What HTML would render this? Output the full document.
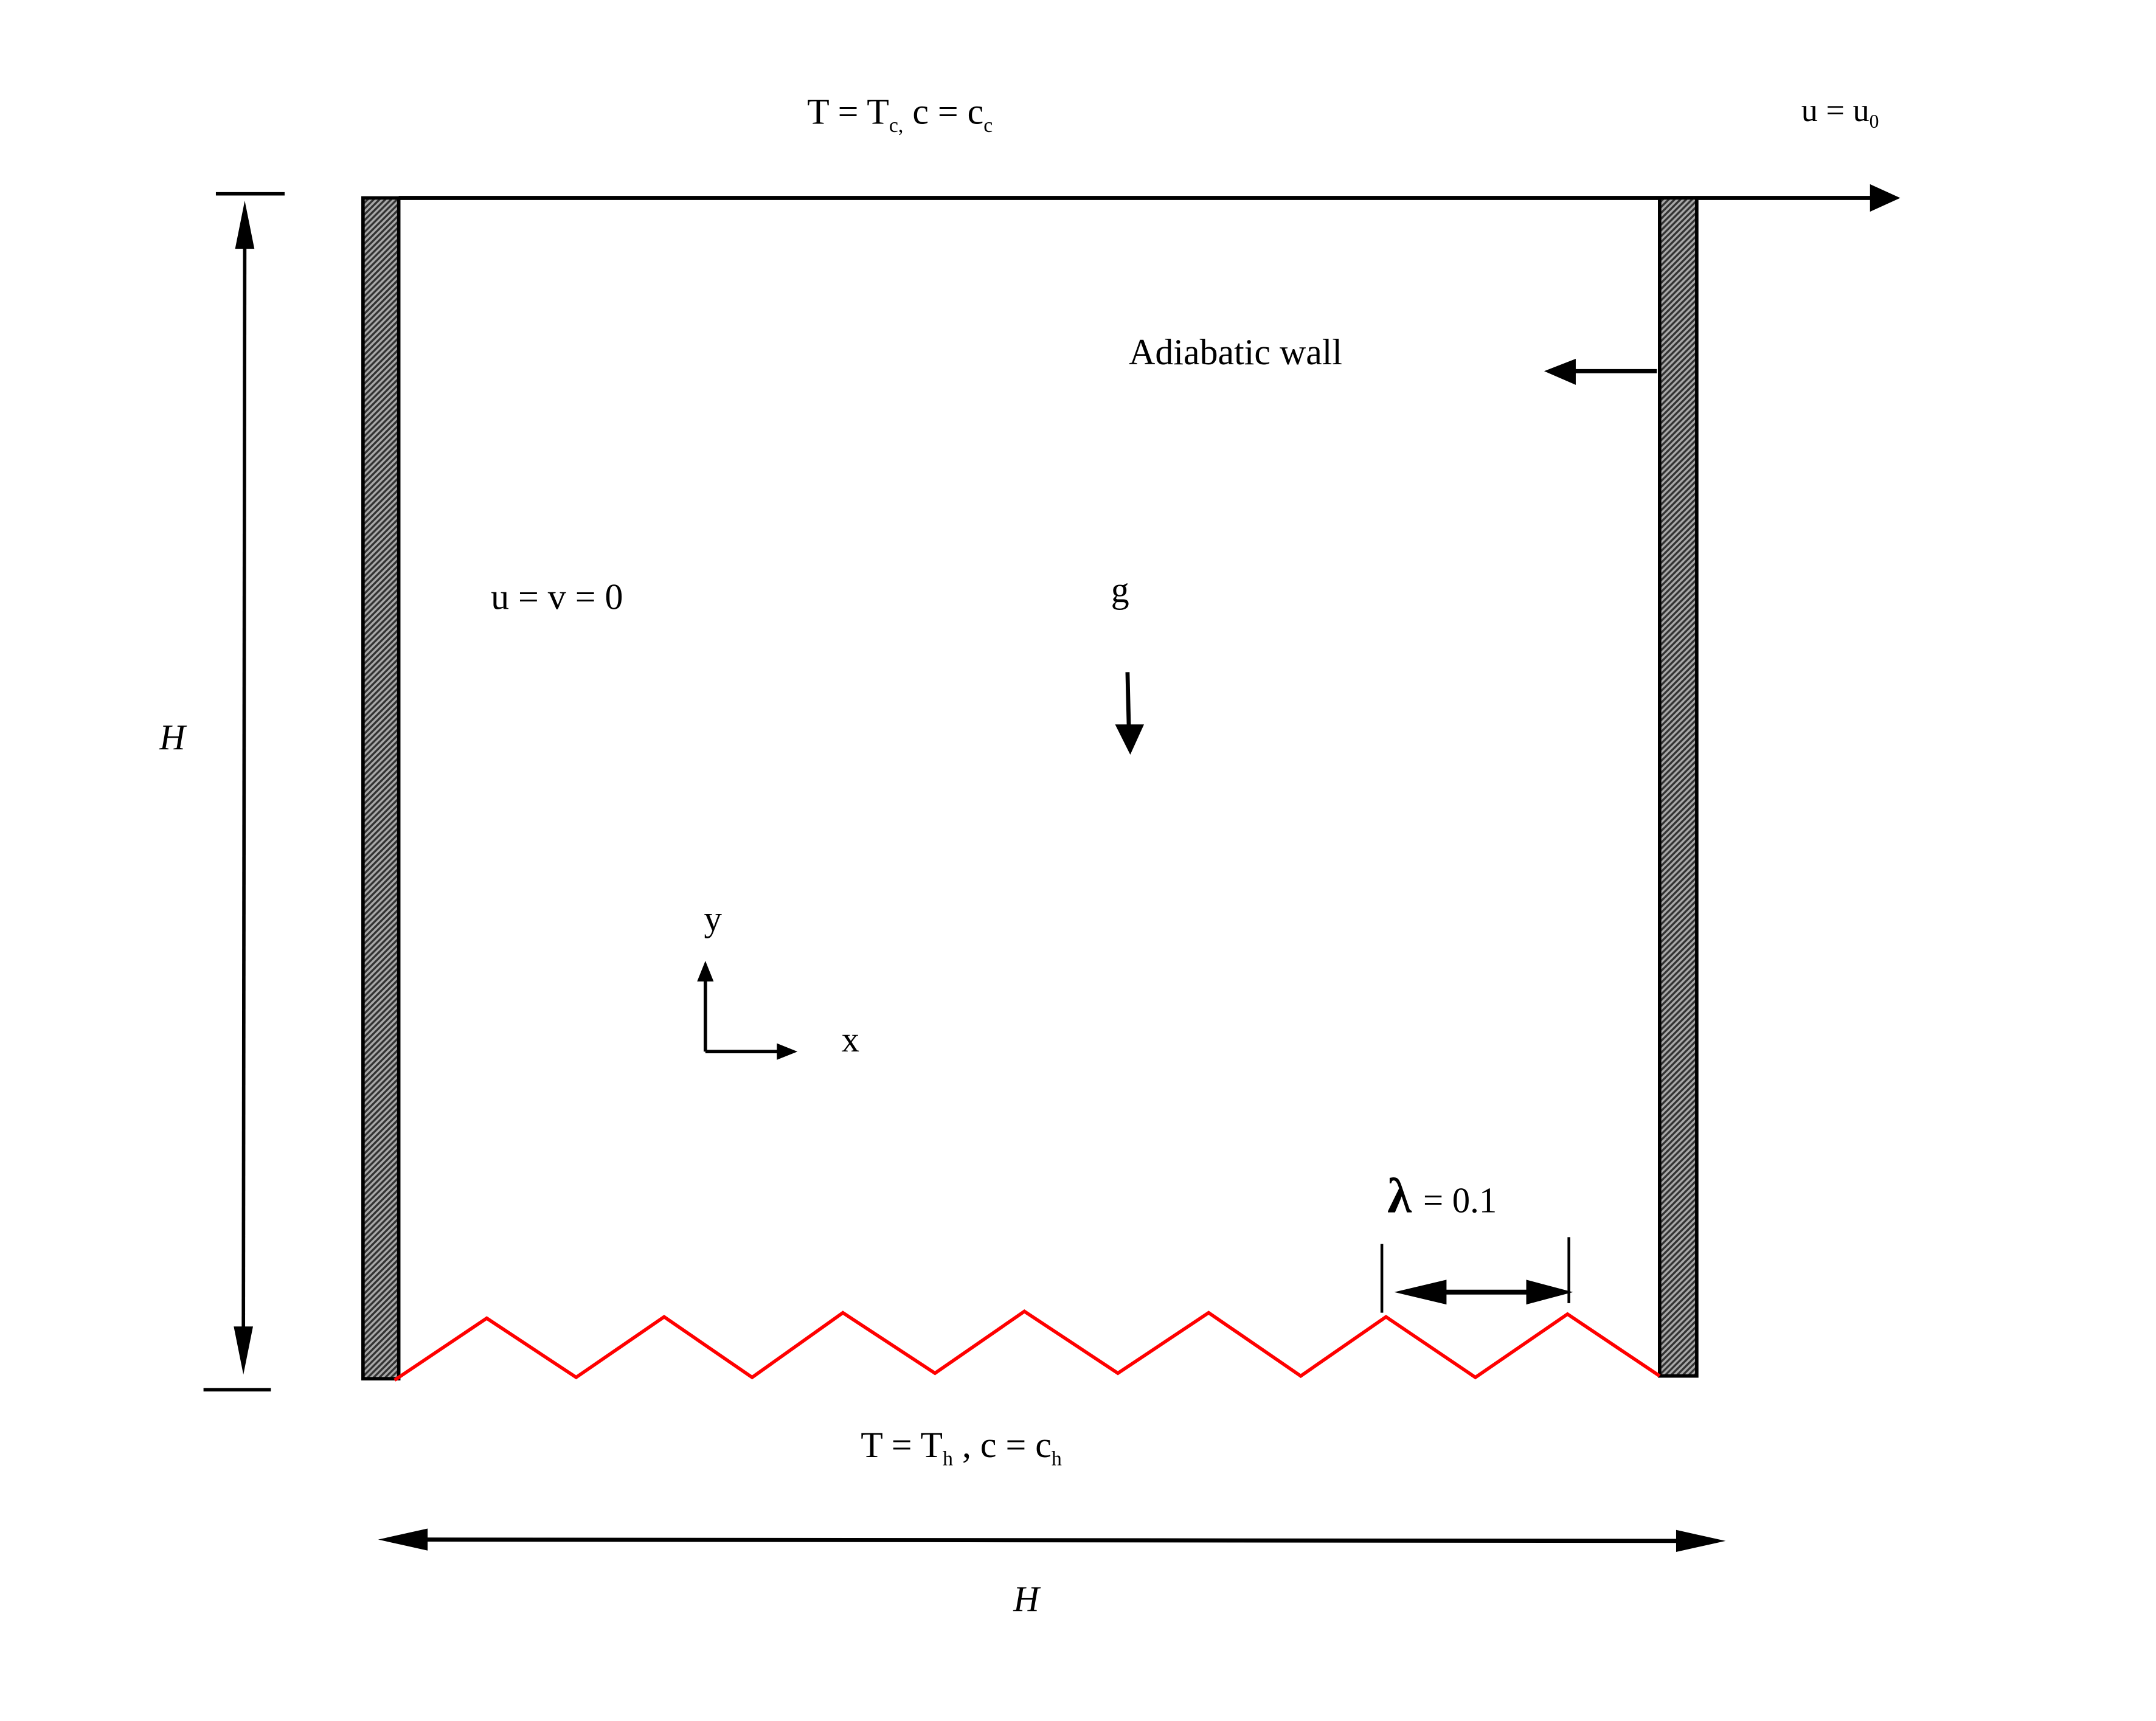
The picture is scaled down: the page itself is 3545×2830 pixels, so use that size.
<!DOCTYPE html>
<html><head><style>html,body{margin:0;padding:0;background:#fff}svg{display:block}</style></head>
<body>
<svg width="3545" height="2830" viewBox="0 0 1568 1252" preserveAspectRatio="none" xmlns="http://www.w3.org/2000/svg" font-family="'Liberation Serif',serif">
<defs>
<pattern id="h" width="3" height="3" patternUnits="userSpaceOnUse" patternTransform="rotate(45)">
<rect width="3" height="3" fill="#a8a8a8"/><rect width="1.5" height="3" fill="#333"/>
</pattern>
</defs>
<rect width="1568" height="1252" fill="#fff"/>
<text x="587" y="90" font-size="26.5">T = T<tspan font-size="15" dy="6">c,</tspan><tspan dy="-6"> c = c</tspan><tspan font-size="15" dy="6">c</tspan></text>
<text x="1310" y="88" font-size="24">u = u<tspan font-size="14" dy="5">0</tspan></text>
<line x1="290" y1="144" x2="1365" y2="144" stroke="#000" stroke-width="3"/>
<polygon points="1382,144 1360,134 1360,154" fill="#000"/>
<rect x="264" y="144" width="26" height="859" fill="url(#h)" stroke="#000" stroke-width="2.5"/>
<rect x="1207" y="144" width="27" height="857" fill="url(#h)" stroke="#000" stroke-width="2.5"/>
<line x1="157" y1="141" x2="207" y2="141" stroke="#000" stroke-width="2.5"/>
<line x1="148" y1="1011" x2="197" y2="1011" stroke="#000" stroke-width="2.5"/>
<line x1="178" y1="170" x2="177" y2="975" stroke="#000" stroke-width="2.5"/>
<polygon points="178,146 171,181 185,181" fill="#000"/>
<polygon points="177,1000 170,965 184,965" fill="#000"/>
<text x="116" y="545" font-size="26" font-style="italic">H</text>
<text x="821" y="265" font-size="26.5">Adiabatic wall</text>
<line x1="1205" y1="270" x2="1140" y2="270" stroke="#000" stroke-width="3"/>
<polygon points="1123,270 1146,261 1146,280" fill="#000"/>
<text x="357" y="443" font-size="26.5">u = v = 0</text>
<text x="808" y="438" font-size="26.5">g</text>
<line x1="820" y1="489" x2="821" y2="530" stroke="#000" stroke-width="3"/>
<polygon points="822,549 811,527 832,527" fill="#000"/>
<text x="512" y="677" font-size="26">y</text>
<line x1="513" y1="765" x2="513" y2="712" stroke="#000" stroke-width="2.5"/>
<polygon points="513,699 507,714 519,714" fill="#000"/>
<line x1="513" y1="765" x2="567" y2="765" stroke="#000" stroke-width="2.5"/>
<polygon points="580,765 565,759 565,771" fill="#000"/>
<text x="612" y="765" font-size="26">x</text>
<text x="1009" y="882" font-size="36" font-weight="bold">λ</text>
<text x="1035" y="882" font-size="26">= 0.1</text>
<line x1="1005" y1="905" x2="1005" y2="955" stroke="#000" stroke-width="2"/>
<line x1="1141" y1="900" x2="1141" y2="948" stroke="#000" stroke-width="2"/>
<line x1="1030" y1="940" x2="1125" y2="940" stroke="#000" stroke-width="3.5"/>
<polygon points="1014,940 1052,931 1052,949" fill="#000"/>
<polygon points="1144,940 1110,931 1110,949" fill="#000"/>
<polyline points="287,1004 354,959 419,1002 483,958 547,1002 613,955 680,999 745,954 813,999 879,955 946,1001 1008,958 1073,1002 1140,956 1207,1001" fill="none" stroke="#f00" stroke-width="2.5"/>
<text x="626" y="1060" font-size="26.5">T = T<tspan font-size="15" dy="6">h</tspan><tspan dy="-6"> , c = c</tspan><tspan font-size="15" dy="6">h</tspan></text>
<line x1="300" y1="1120" x2="1230" y2="1121" stroke="#000" stroke-width="3"/>
<polygon points="275,1120 311,1112 311,1128" fill="#000"/>
<polygon points="1255,1121 1219,1113 1219,1129" fill="#000"/>
<text x="737" y="1172" font-size="26" font-style="italic">H</text>
</svg>
</body></html>
